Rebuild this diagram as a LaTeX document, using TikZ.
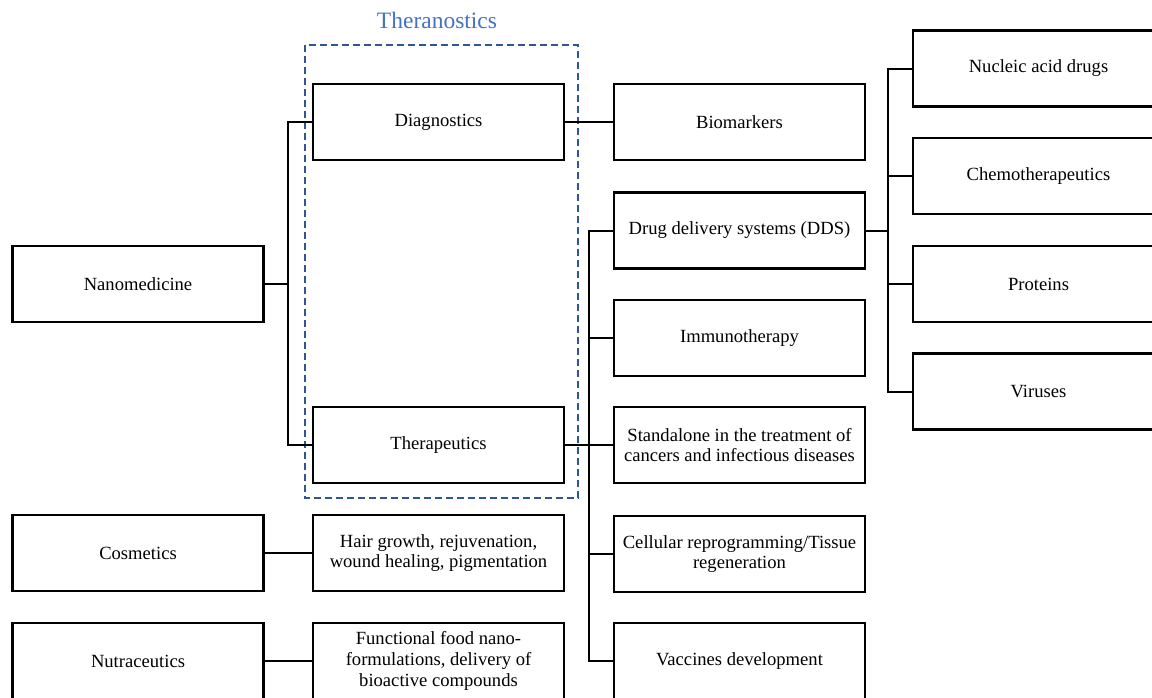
\documentclass[tikz,border=0pt]{standalone}
\usepackage{fontspec}
\setmainfont{Liberation Serif}
\usepackage{tikz}
\usetikzlibrary{positioning}

\definecolor{theraline}{RGB}{47,85,151}
\definecolor{theratext}{RGB}{68,114,196}
\newcommand{\boxfont}{\fontsize{18.6}{20.6}\selectfont}
\tikzset{
  box/.style={draw=black, line width=2.5pt, minimum width=251pt, minimum height=76pt,
    inner sep=0pt, align=center, font=\boxfont},
  link/.style={draw=black, line width=2pt},
  theraframe/.style={draw=theraline, line width=2pt, dash pattern=on 7pt off 4pt},
}

\begin{document}
\begin{tikzpicture}[x=1pt,y=-1pt]
\useasboundingbox (0,0) rectangle (1152,697);

% first level
\node[box] (nano) at (138,284) {Nanomedicine};
\node[box] (cosm) at (138,553) {Cosmetics};
\node[box] (nutra) at (138,661) {Nutraceutics};

% second level
\node[box] (diag) at (438.5,122) {Diagnostics};
\node[box] (thera) at (438.5,445) {Therapeutics};
\node[box] (hair) at (438.5,553) {Hair growth, rejuvenation,\\wound healing, pigmentation};
\node[box] (food) at (438.5,661) {Functional food nano-\\formulations, delivery of\\bioactive compounds};

% third level
\node[box] (biom) at (739.5,122) {Biomarkers};
\node[box] (dds) at (739.5,230.5) {Drug delivery systems (DDS)};
\node[box] (immuno) at (739.5,338) {Immunotherapy};
\node[box] (standalone) at (739.5,445) {Standalone in the treatment of\\cancers and infectious diseases};
\node[box] (cellular) at (739.5,554) {Cellular reprogramming/Tissue\\regeneration};
\node[box] (vaccine) at (739.5,661) {Vaccines development};

% drugs carried
\node[box] (nucleic) at (1038.5,68.5) {Nucleic acid drugs};
\node[box] (chemo) at (1038.5,176) {Chemotherapeutics};
\node[box] (protein) at (1038.5,284) {Proteins};
\node[box] (virus) at (1038.5,391.5) {Viruses};

% theranostics frame
\draw[theraframe] (305,45) rectangle (578,498);
\node[text=theratext, font=\fontsize{23.5}{26}\selectfont] (theralbl) at (437,20) {Theranostics};

% connectors
\coordinate (trunkA) at (288,0);
\coordinate (trunkB) at (589,0);
\coordinate (trunkC) at (888,0);

\draw[link] (nano.east) -- (nano.east -| trunkA);
\draw[link] (diag.west) -- (diag.west -| trunkA) -- (thera.west -| trunkA) -- (thera.west);
\draw[link] (diag.east) -- (biom.west);
\draw[link] (thera.east) -- (standalone.west);
\draw[link] (dds.west) -- (dds.west -| trunkB) -- (vaccine.west -| trunkB) -- (vaccine.west);
\foreach \n in {immuno,cellular}
  \draw[link] (\n.west) -- (\n.west -| trunkB);
\draw[link] (dds.east) -- (dds.east -| trunkC);
\draw[link] (nucleic.west) -- (nucleic.west -| trunkC) -- (virus.west -| trunkC) -- (virus.west);
\foreach \n in {chemo,protein}
  \draw[link] (\n.west) -- (\n.west -| trunkC);
\draw[link] (cosm.east) -- (hair.west);
\draw[link] (nutra.east) -- (food.west);

\end{tikzpicture}
\end{document}
